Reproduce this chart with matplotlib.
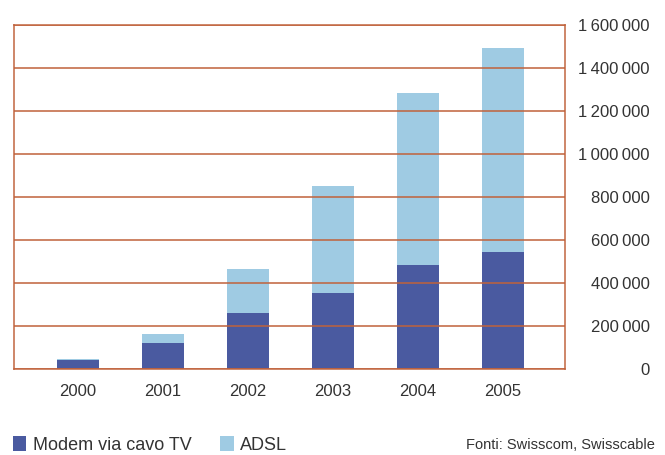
import matplotlib
matplotlib.use("Agg")
import matplotlib.pyplot as plt
from matplotlib.patches import Patch
import numpy as np

years = ["2000", "2001", "2002", "2003", "2004", "2005"]
modem = [42000, 121000, 260000, 353000, 484000, 544000]
adsl = [4000, 42000, 205000, 498000, 800000, 949000]
yticks = [0, 200000, 400000, 600000, 800000, 1000000, 1200000, 1400000, 1600000]
ytick_labels = ["0", "200\u2009000", "400\u2009000", "600\u2009000", "800\u2009000",
                "1\u2009000\u2009000", "1\u2009200\u2009000", "1\u2009400\u2009000",
                "1\u2009600\u2009000"]
series_names = ["Modem via cavo TV", "ADSL"]
source = "Fonti: Swisscom, Swisscable"

plt.rcParams['font.family'] = ['Liberation Sans', 'DejaVu Sans']

dark = "#4a5aa0"
light = "#9fcbe3"
grid_c = "#c0623c"
txt_c = "#333333"

W, H = 665, 455
fig = plt.figure(figsize=(W / 100, H / 100), dpi=100)
ax = fig.add_axes([14 / W, (H - 369) / H, 551 / W, 344 / H])

x = np.arange(len(years))
ax.bar(x, modem, width=0.49, color=dark, zorder=2)
ax.bar(x, adsl, width=0.49, bottom=modem, color=light, zorder=2)

ax.set_xlim(-0.753, 5.73)
ax.set_ylim(0, 1600000)
for yv in yticks:
    ax.axhline(yv, color=grid_c, lw=1.3, alpha=0.85, zorder=3)

for s in ax.spines.values():
    s.set_color(grid_c)
    s.set_linewidth(1.2)
    s.set_alpha(0.9)
    s.set_zorder(3)

ax.set_xticks(x)
ax.set_xticklabels(years, fontsize=12, color=txt_c)
ax.tick_params(axis='x', length=0, pad=11)

ax.yaxis.tick_right()
ax.set_yticks(yticks)
ax.set_yticklabels(ytick_labels, fontsize=12, color=txt_c, ha='right')
ax.tick_params(axis='y', length=0, pad=61)

handles = [Patch(facecolor=dark, edgecolor='none'), Patch(facecolor=light, edgecolor='none')]
fig.legend(handles, series_names, loc='center left', bbox_to_anchor=(0.003, (H - 445) / H),
           ncol=2, frameon=False, handlelength=0.75, handleheight=0.9,
           handletextpad=0.35, columnspacing=1.6, fontsize=13,
           labelcolor=txt_c, borderaxespad=0.2)

fig.text(655 / W, (H - 445) / H, source, ha='right', va='center', fontsize=10.5, color=txt_c)

fig.savefig("out.png", dpi=100)
